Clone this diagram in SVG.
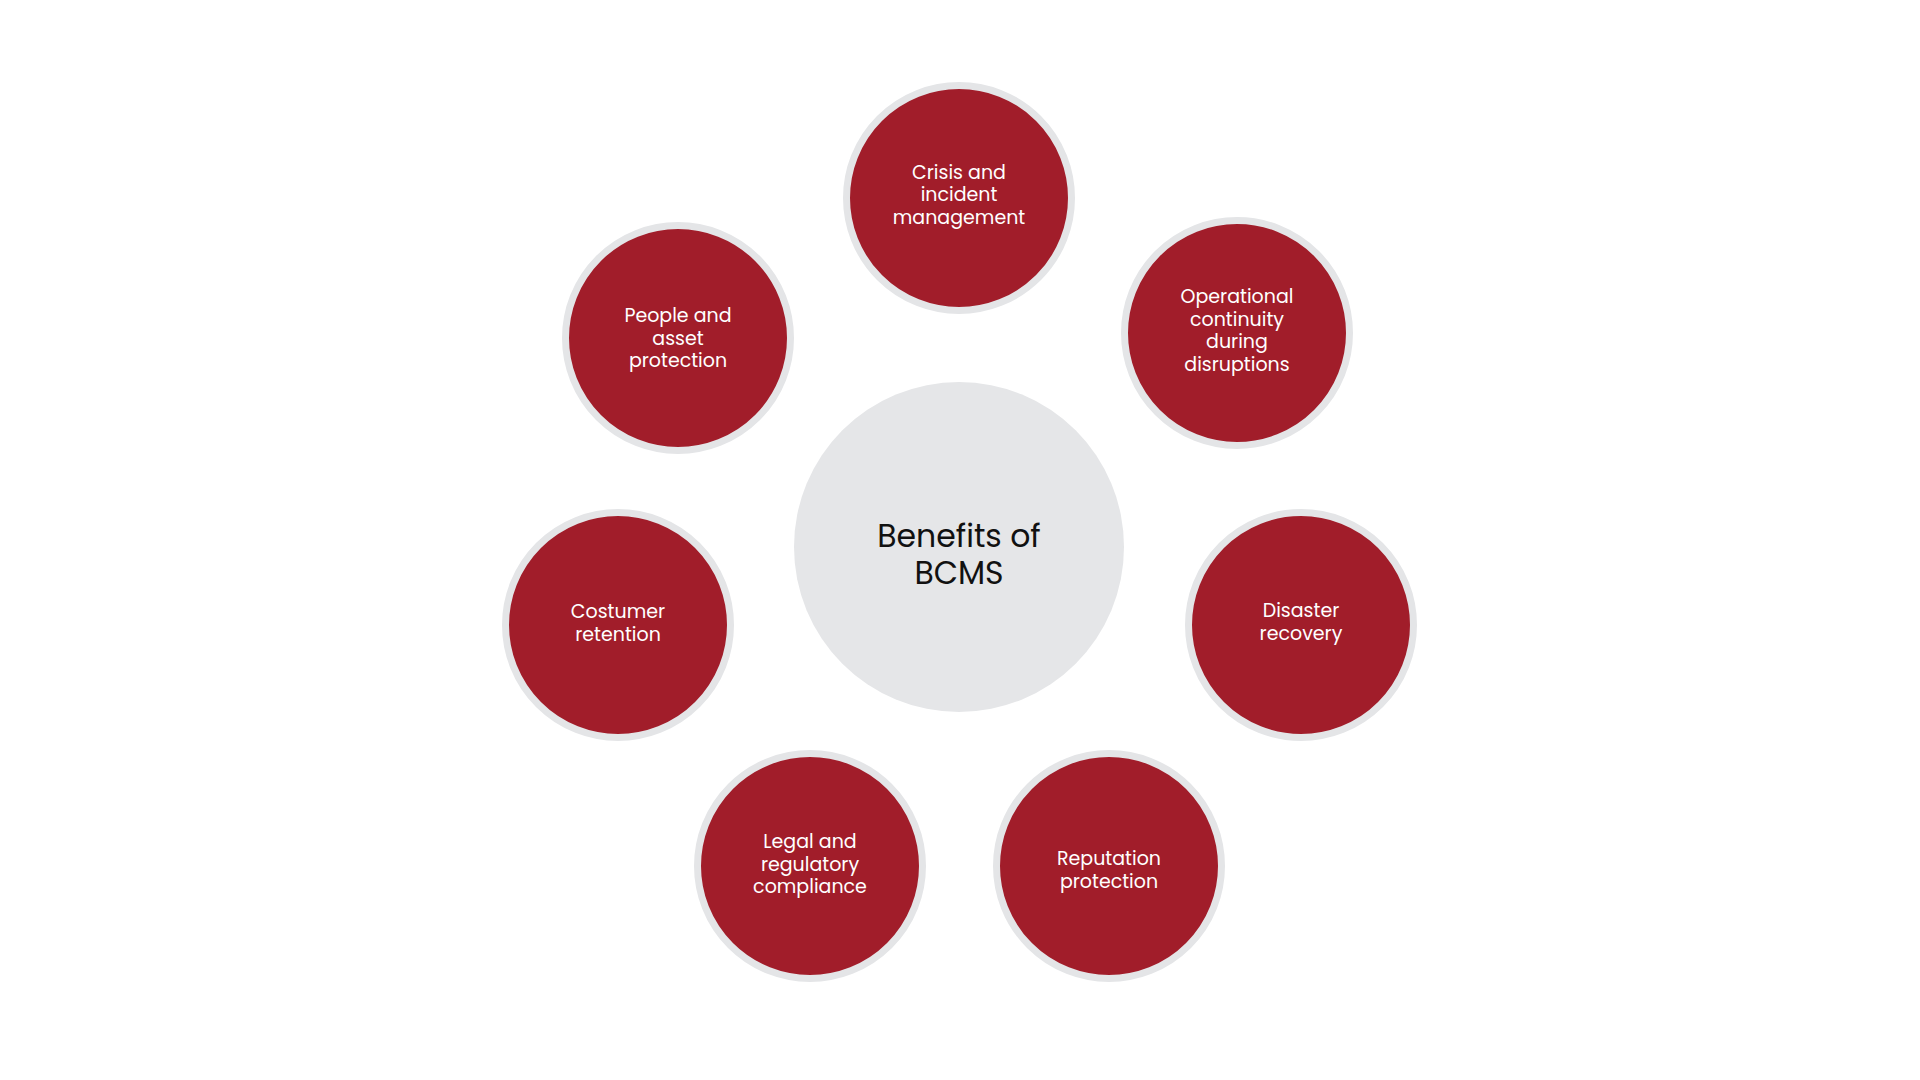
<svg xmlns="http://www.w3.org/2000/svg" width="1920" height="1080" viewBox="0 0 1920 1080">
<style>
.bg{fill:#ffffff}
.hub{fill:#e5e6e8}
.node circle{fill:#a11d2a;stroke:#e4e5e7;stroke-width:7}
.lbl{font-family:Poppins,Inter,"Noto Sans","DejaVu Sans",sans-serif;font-size:19px;fill:#ffffff;text-anchor:middle}
.hubtxt{font-family:Poppins,Inter,"Noto Sans","DejaVu Sans",sans-serif;font-size:31.5px;fill:#111111;text-anchor:middle}
</style>
<rect class="bg" x="0" y="0" width="1920" height="1080"/>
<g id="connectors"></g>
<g id="hub">
<circle class="hub" cx="959" cy="547" r="165"/>
<text class="hubtxt" x="959" y="546.5">Benefits of</text>
<text class="hubtxt" x="959" y="583.5">BCMS</text>
</g>
<g id="crisis" class="node">
<circle cx="959" cy="198" r="112.5"/>
<text class="lbl" x="959" y="178.5">Crisis and</text>
<text class="lbl" x="959" y="201">incident</text>
<text class="lbl" x="959" y="223.5">management</text>
</g>
<g id="operational" class="node">
<circle cx="1237" cy="333" r="112.5"/>
<text class="lbl" x="1237" y="303">Operational</text>
<text class="lbl" x="1237" y="325.5">continuity</text>
<text class="lbl" x="1237" y="348">during</text>
<text class="lbl" x="1237" y="370.5">disruptions</text>
</g>
<g id="disaster" class="node">
<circle cx="1301" cy="625" r="112.5"/>
<text class="lbl" x="1301" y="617">Disaster</text>
<text class="lbl" x="1301" y="639.5">recovery</text>
</g>
<g id="reputation" class="node">
<circle cx="1109" cy="866" r="112.5"/>
<text class="lbl" x="1109" y="865">Reputation</text>
<text class="lbl" x="1109" y="887.5">protection</text>
</g>
<g id="legal" class="node">
<circle cx="810" cy="866" r="112.5"/>
<text class="lbl" x="810" y="848">Legal and</text>
<text class="lbl" x="810" y="870.5">regulatory</text>
<text class="lbl" x="810" y="893">compliance</text>
</g>
<g id="costumer" class="node">
<circle cx="618" cy="625" r="112.5"/>
<text class="lbl" x="618" y="618">Costumer</text>
<text class="lbl" x="618" y="640.5">retention</text>
</g>
<g id="people" class="node">
<circle cx="678" cy="338" r="112.5"/>
<text class="lbl" x="678" y="322">People and</text>
<text class="lbl" x="678" y="344.5">asset</text>
<text class="lbl" x="678" y="367">protection</text>
</g>
</svg>
